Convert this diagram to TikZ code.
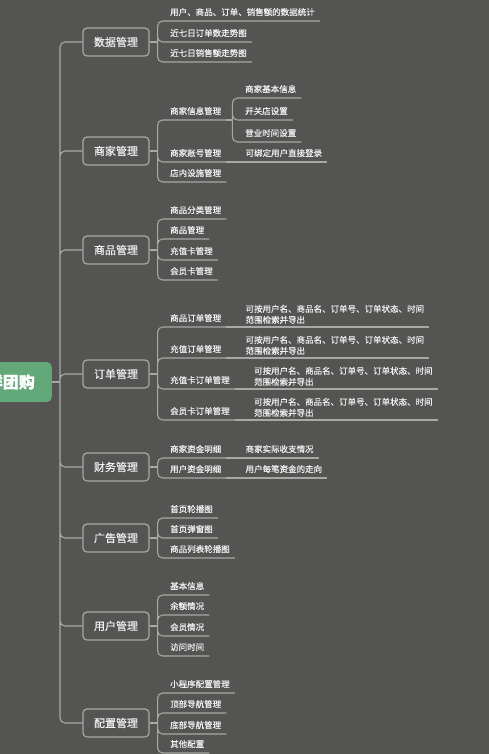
\documentclass[tikz,border=0pt]{standalone}
\usepackage{fontspec}
\setmainfont{Noto Sans CJK SC}[FakeBold=0.4]
\usepackage{xcolor}
\usetikzlibrary{positioning,calc}
\definecolor{bgGray}{RGB}{84,85,83}
\definecolor{lineGray}{RGB}{168,168,166}
\definecolor{rootGreen}{RGB}{99,168,121}
\definecolor{txtWhite}{RGB}{240,240,240}

\begin{document}
\begin{tikzpicture}[x=1pt,y=-1pt,
    link/.style={draw=lineGray,line width=1.1pt,rounded corners=5pt},
    topic/.style={draw=lineGray,line width=1.2pt,rounded corners=4pt,minimum width=66pt,minimum height=28pt,inner sep=0pt,text=txtWhite,font=\fontsize{11pt}{13pt}\selectfont},
    leaf/.style={anchor=south west,inner xsep=5pt,inner ysep=4.5pt,text height=7pt,text depth=1pt,text=txtWhite,font=\fontsize{8.5pt}{10pt}\selectfont},
    note/.style={anchor=south west,inner xsep=5pt,inner ysep=3pt,align=left,text=txtWhite,font=\fontsize{8.5pt}{11pt}\selectfont}]
    \path[fill=bgGray,use as bounding box] (0,0) rectangle (489,754);
    \clip (0,0) rectangle (489,754);

    % root and main topics
    \node[fill=rootGreen,rounded corners=5pt,anchor=east,minimum height=40pt,inner xsep=17pt,text=white,font=\fontsize{16pt}{18pt}\selectfont\bfseries] (root) at (52,382) {生鲜团购};
    \node[topic] (data) at (116,42) {数据管理};
    \node[topic] (shop) at (116,151) {商家管理};
    \node[topic] (goods) at (116,250) {商品管理};
    \node[topic] (order) at (116,374) {订单管理};
    \node[topic] (fin) at (116,467) {财务管理};
    \node[topic] (ad) at (116,538) {广告管理};
    \node[topic] (user) at (116,626) {用户管理};
    \node[topic] (conf) at (116,723) {配置管理};

    \coordinate (hub) at ([xshift=8pt]root.east);
    \draw[link] (root.east) -- (hub);
    \draw[link] (hub) |- (data.west) (hub) |- (shop.west) (hub) |- (goods.west) (hub) |- (order.west)
        (hub) |- (fin.west) (hub) |- (ad.west) (hub) |- (user.west) (hub) |- (conf.west);

    % 数据管理
    \node[leaf] (d1) at (165,21) {用户、商品、订单、销售额的数据统计};
    \node[leaf] (d2) at (165,42) {近七日订单数走势图};
    \node[leaf] (d3) at (165,62) {近七日销售额走势图};
    \coordinate (data-j) at ([xshift=8pt]data.east);
    \draw[link] (data.east) -- (data-j);
    \draw[link] (data-j) |- (d1.south east) (data-j) |- (d2.south east) (data-j) |- (d3.south east);

    % 商家管理
    \node[leaf] (s1) at (165,120) {商家信息管理};
    \node[leaf] (s2) at (165,162) {商家账号管理};
    \node[leaf] (s3) at (165,182) {店内设施管理};
    \node[leaf] (s11) at (240,98) {商家基本信息};
    \node[leaf] (s12) at (240,120) {开关店设置};
    \node[leaf] (s13) at (240,142) {营业时间设置};
    \node[leaf] (s21) at ([xshift=14pt]s2.south east) {可绑定用户直接登录};
    \coordinate (shop-j) at ([xshift=8pt]shop.east);
    \coordinate (s1-j) at ([xshift=6pt]s1.south east);
    \draw[link] (shop.east) -- (shop-j);
    \draw[link] (shop-j) |- (s1.south east) (shop-j) |- (s2.south east) (shop-j) |- (s3.south east);
    \draw[link] (s1.south east) -- (s1-j);
    \draw[link] (s1-j) |- (s11.south east) (s1-j) |- (s12.south east) (s1-j) |- (s13.south east);
    \draw[link] (s2.south east) -- (s21.south east);

    % 商品管理
    \node[leaf] (g1) at (165,219) {商品分类管理};
    \node[leaf] (g2) at (165,239) {商品管理};
    \node[leaf] (g3) at (165,260) {充值卡管理};
    \node[leaf] (g4) at (165,280) {会员卡管理};
    \coordinate (goods-j) at ([xshift=8pt]goods.east);
    \draw[link] (goods.east) -- (goods-j);
    \draw[link] (goods-j) |- (g1.south east) (goods-j) |- (g2.south east) (goods-j) |- (g3.south east) (goods-j) |- (g4.south east);

    % 订单管理
    \node[leaf] (o1) at (165,327) {商品订单管理};
    \node[leaf] (o2) at (165,358) {充值订单管理};
    \node[leaf] (o3) at (165,389) {充值卡订单管理};
    \node[leaf] (o4) at (165,420) {会员卡订单管理};
    \node[note] (o11) at ([xshift=14pt]o1.south east) {可按用户名、商品名、订单号、订单状态、时间\\范围检索并导出};
    \node[note] (o21) at ([xshift=14pt]o2.south east) {可按用户名、商品名、订单号、订单状态、时间\\范围检索并导出};
    \node[note] (o31) at ([xshift=14pt]o3.south east) {可按用户名、商品名、订单号、订单状态、时间\\范围检索并导出};
    \node[note] (o41) at ([xshift=14pt]o4.south east) {可按用户名、商品名、订单号、订单状态、时间\\范围检索并导出};
    \coordinate (order-j) at ([xshift=8pt]order.east);
    \draw[link] (order.east) -- (order-j);
    \draw[link] (order-j) |- (o1.south east) (order-j) |- (o2.south east) (order-j) |- (o3.south east) (order-j) |- (o4.south east);
    \draw[link] (o1.south east) -- (o11.south east) (o2.south east) -- (o21.south east)
        (o3.south east) -- (o31.south east) (o4.south east) -- (o41.south east);

    % 财务管理
    \node[leaf] (f1) at (165,458) {商家资金明细};
    \node[leaf] (f2) at (165,478) {用户资金明细};
    \node[leaf] (f11) at ([xshift=14pt]f1.south east) {商家实际收支情况};
    \node[leaf] (f21) at ([xshift=14pt]f2.south east) {用户每笔资金的走向};
    \coordinate (fin-j) at ([xshift=8pt]fin.east);
    \draw[link] (fin.east) -- (fin-j);
    \draw[link] (fin-j) |- (f1.south east) (fin-j) |- (f2.south east);
    \draw[link] (f1.south east) -- (f11.south east) (f2.south east) -- (f21.south east);

    % 广告管理
    \node[leaf] (a1) at (165,518) {首页轮播图};
    \node[leaf] (a2) at (165,538) {首页弹窗图};
    \node[leaf] (a3) at (165,558) {商品列表轮播图};
    \coordinate (ad-j) at ([xshift=8pt]ad.east);
    \draw[link] (ad.east) -- (ad-j);
    \draw[link] (ad-j) |- (a1.south east) (ad-j) |- (a2.south east) (ad-j) |- (a3.south east);

    % 用户管理
    \node[leaf] (u1) at (165,595) {基本信息};
    \node[leaf] (u2) at (165,615) {余额情况};
    \node[leaf] (u3) at (165,636) {会员情况};
    \node[leaf] (u4) at (165,656) {访问时间};
    \coordinate (user-j) at ([xshift=8pt]user.east);
    \draw[link] (user.east) -- (user-j);
    \draw[link] (user-j) |- (u1.south east) (user-j) |- (u2.south east) (user-j) |- (u3.south east) (user-j) |- (u4.south east);

    % 配置管理
    \node[leaf] (c1) at (165,693) {小程序配置管理};
    \node[leaf] (c2) at (165,713) {顶部导航管理};
    \node[leaf] (c3) at (165,734) {底部导航管理};
    \node[leaf] (c4) at (165,753) {其他配置};
    \coordinate (conf-j) at ([xshift=8pt]conf.east);
    \draw[link] (conf.east) -- (conf-j);
    \draw[link] (conf-j) |- (c1.south east) (conf-j) |- (c2.south east) (conf-j) |- (c3.south east) (conf-j) |- (c4.south east);
\end{tikzpicture}
\end{document}
